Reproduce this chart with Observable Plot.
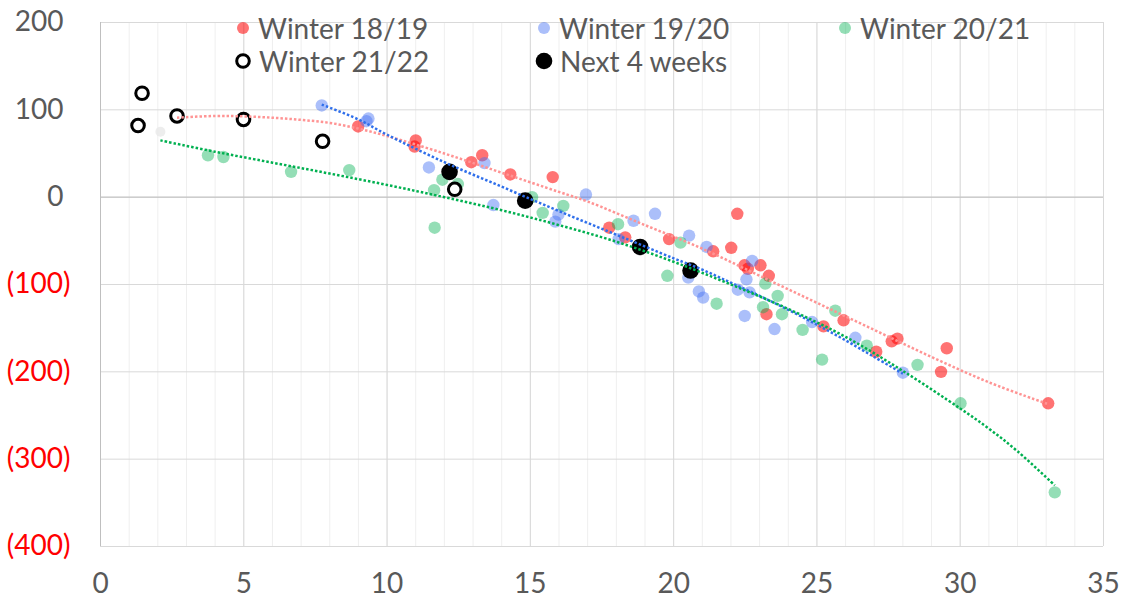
<!DOCTYPE html>
<html>
<head>
<meta charset="utf-8">
<script src="https://cdn.jsdelivr.net/npm/d3@7"></script>
<script src="https://cdn.jsdelivr.net/npm/@observablehq/plot@0.6"></script>
<style>
  body { margin: 0; background: #fff; font-family: Lato, "Open Sans", sans-serif; }
  #wrap { position: relative; width: 1128px; height: 600px; overflow: hidden; }
  .leg { position: absolute; display: flex; align-items: center; font-size: 28px; line-height: 1; color: #595959; white-space: nowrap; }
  .leg svg { display: block; margin-right: 7px; }
</style>
</head>
<body>
<div id="wrap">
  <div id="chart"></div>
  <div class="leg" style="left:235px;top:14px"><svg width="16" height="16"><circle cx="8" cy="8" r="6" fill="#FF0000" fill-opacity="0.55"/></svg><span>Winter 18/19</span></div>
  <div class="leg" style="left:536px;top:14px"><svg width="16" height="16"><circle cx="8" cy="8" r="6" fill="#4472F4" fill-opacity="0.45"/></svg><span>Winter 19/20</span></div>
  <div class="leg" style="left:837px;top:14px"><svg width="16" height="16"><circle cx="8" cy="8" r="6" fill="#00B050" fill-opacity="0.42"/></svg><span>Winter 20/21</span></div>
  <div class="leg" style="left:234px;top:47px"><svg width="18" height="18"><circle cx="9" cy="9" r="6.3" fill="white" stroke="black" stroke-width="3"/></svg><span>Winter 21/22</span></div>
  <div class="leg" style="left:535px;top:47px"><svg width="18" height="18"><circle cx="9" cy="9" r="8.3" fill="black"/></svg><span>Next 4 weeks</span></div>
</div>
<script>
// ---- data ----
const winter1819 = [
  [8.99,81],[10.96,58],[11.0,65],[12.94,40],[13.32,48],[14.3,26],[15.78,23],[17.75,-35],
  [18.31,-46],[19.84,-48],[21.38,-62],[22.01,-58],[22.22,-19],[22.47,-78],[22.59,-82],
  [23.03,-78],[23.32,-90],[23.24,-134],[25.23,-148],[25.93,-141],[27.07,-177],[27.61,-165],
  [27.81,-162],[29.33,-200],[29.53,-173],[33.07,-236]
];
const winter1920 = [
  [7.72,105],[9.28,87],[9.35,90],[11.46,34],[13.4,39],[13.71,-9],[15.87,-28],[15.98,-20],
  [16.94,3],[18.08,-48],[18.6,-27],[19.35,-19],[20.51,-92],[20.54,-44],[20.88,-108],
  [21.03,-115],[21.15,-57],[22.24,-106],[22.48,-136],[22.54,-94],[22.65,-109],[22.74,-73],
  [23.52,-151],[24.83,-143],[26.34,-161],[28.0,-201]
];
const winter2021 = [
  [3.75,48],[4.29,46],[6.65,29],[8.68,31],[11.64,8],[11.66,-35],[11.93,20],[12.47,15],
  [15.06,0],[15.43,-18],[16.15,-10],[18.06,-31],[19.78,-90],[20.24,-52],[21.5,-122],
  [23.12,-126],[23.2,-99],[23.63,-113],[23.78,-134],[24.5,-152],[25.18,-186],[25.64,-130],
  [26.74,-170],[28.51,-192],[30.01,-236],[33.3,-338]
];
const winter2122 = [[1.31,82],[1.45,119],[2.67,93],[4.99,89],[7.75,64],[12.36,9]];
const next4weeks = [[12.18,29],[14.82,-4],[18.83,-57],[20.59,-84]];
const faintPoint = [[2.09,75]];

// polynomial trendlines, values at sample x positions
const trend1819 = [
  [2.67,91],[4,93],[5,92.5],[6,91],[7,88.5],[8,85],[9,78.5],[10,70],[12,50],[14,28],
  [16,6],[17,-5],[19,-32],[21,-59],[23,-90],[25,-121],[27,-152],[29,-183],[31,-212],[33.07,-237]
];
const trend1920 = [
  [7.72,106],[9,89],[10,71.5],[12,40],[14,12],[16,-16],[18,-43],[20,-70],[21,-83],
  [22,-98],[23,-113],[24,-129],[25,-146],[26,-164],[27,-183],[28,-202]
];
const trend2021 = [
  [2.09,65],[4,52],[6,39.5],[8,27],[10,14],[12,0],[14,-15],[16,-32],[18,-51],[20,-74],
  [22,-100],[24,-128],[26,-160],[28,-199],[30,-242],[31,-265],[32,-291],[33.3,-330]
];
const xTicks = [0,5,10,15,20,25,30,35];
const yTicksPos = [0,100,200];
const yTicksNeg = [-400,-300,-200,-100];

const X = d => d[0], Y = d => d[1];
const dotted = { x: X, y: Y, curve: "catmull-rom", strokeWidth: 2.5, strokeDasharray: "2.5 2", strokeLinecap: "butt" };
const chart = Plot.plot({
  width: 1128,
  height: 600,
  marginLeft: 100,
  marginRight: 25,
  marginTop: 22,
  marginBottom: 54,
  style: { fontFamily: "Lato, 'Open Sans', sans-serif", fontSize: "28px", background: "white", overflow: "visible" },
  x: { domain: [0, 35], label: null },
  y: { domain: [-400, 200], label: null },
  marks: [
    Plot.gridX(d3.range(0, 36, 1), { stroke: "#efefef", strokeOpacity: 1 }),
    Plot.gridX(xTicks, { stroke: "#d9d9d9", strokeOpacity: 1 }),
    Plot.gridY(d3.range(-400, 201, 100), { stroke: "#d9d9d9", strokeOpacity: 1 }),
    Plot.ruleY([0], { stroke: "#bfbfbf" }),
    Plot.ruleX([0], { stroke: "#bfbfbf" }),
    Plot.dot(faintPoint, { x: X, y: Y, r: 5, fill: "#e8e8e8", fillOpacity: 0.8 }),
    Plot.dot(winter1819, { x: X, y: Y, r: 6.2, fill: "#FF0000", fillOpacity: 0.55 }),
    Plot.dot(winter1920, { x: X, y: Y, r: 6.2, fill: "#4472F4", fillOpacity: 0.45 }),
    Plot.dot(winter2021, { x: X, y: Y, r: 6.2, fill: "#00B050", fillOpacity: 0.42 }),
    Plot.dot(winter2122, { x: X, y: Y, r: 6.3, fill: "white", stroke: "black", strokeWidth: 3 }),
    Plot.dot(next4weeks, { x: X, y: Y, r: 8.3, fill: "black" }),
    Plot.line(trend1819, { ...dotted, stroke: "#FF9494" }),
    Plot.line(trend1920, { ...dotted, stroke: "#2F6FEB" }),
    Plot.line(trend2021, { ...dotted, stroke: "#00B050" }),
    Plot.axisX(xTicks, { anchor: "bottom", label: null, tickSize: 0, tickPadding: 27, color: "#595959", fontSize: 28 }),
    Plot.axisY(yTicksPos, { anchor: "left", label: null, tickSize: 0, tickPadding: 30, dx: -7, color: "#595959", fontSize: 28, tickFormat: d => String(d) }),
    Plot.axisY(yTicksNeg, { anchor: "left", label: null, tickSize: 0, tickPadding: 30, color: "#FF0000", fontSize: 28, tickFormat: d => `(${-d})` })
  ]
});
document.getElementById("chart").appendChild(chart);
</script>
</body>
</html>
